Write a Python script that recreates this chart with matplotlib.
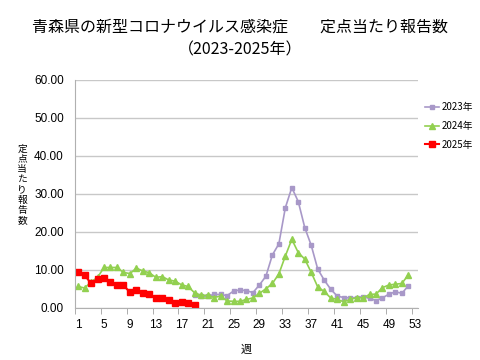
import numpy as np
import matplotlib
matplotlib.use('Agg')
import matplotlib.pyplot as plt

plt.rcParams['font.family'] = ['Noto Sans CJK JP', 'DejaVu Sans']

# weekly sentinel reports per site
weeks_2023 = list(range(19, 53))
vals_2023 = [3.3, 3.0, 3.1, 3.5, 3.5, 3.2, 4.4, 4.7, 4.5, 4.0,
             6.0, 8.3, 13.9, 16.8, 26.3, 31.6, 27.9, 21.1, 16.4, 10.2,
             7.3, 4.9, 3.1, 2.7, 2.6, 2.7, 2.9, 2.5, 1.9, 2.6,
             3.6, 4.2, 3.8, 5.8]

weeks_2024 = list(range(1, 53))
vals_2024 = [5.6, 5.2, 6.8, 8.0, 10.6, 10.6, 10.6, 9.3, 9.0, 10.4,
             9.7, 9.2, 8.0, 8.2, 7.3, 7.0, 6.0, 5.6, 3.9, 3.3,
             3.3, 2.7, 3.1, 1.8, 1.7, 1.7, 2.2, 2.6, 3.8, 5.0,
             6.4, 8.9, 13.6, 18.0, 14.5, 12.8, 9.3, 5.5, 4.3, 2.6,
             2.2, 1.6, 2.2, 2.7, 2.6, 3.5, 3.6, 5.3, 6.0, 6.2,
             6.4, 8.7]

weeks_2025 = list(range(1, 20))
vals_2025 = [9.5, 8.6, 6.4, 7.5, 7.9, 6.8, 5.9, 5.9, 4.1, 4.7,
             3.9, 3.5, 2.7, 2.5, 2.0, 1.2, 1.4, 1.2, 0.8]

xticks = list(range(1, 54, 4))
ylabel = '定点当たり報告数'

fig = plt.figure(figsize=(4.8, 3.6), dpi=100)
ax = fig.add_axes([0.156, 0.145, 0.715, 0.634])

ax.plot(weeks_2023, vals_2023, '-s', color='#a898c8', markersize=3.5,
        linewidth=1.2, label='2023年')
ax.plot(weeks_2024, vals_2024, '-^', color='#92d050', markersize=4,
        linewidth=1.2, label='2024年')
ax.plot(weeks_2025, vals_2025, '-s', color='#ff0000', markersize=5,
        linewidth=1.5, label='2025年')

num_font = ['Liberation Sans', 'DejaVu Sans']
ax.set_xlim(0.5, 53.5)
ax.set_ylim(0, 60)
ax.set_yticks(np.arange(0, 61, 10))
ax.set_yticklabels(['%.2f' % v for v in np.arange(0, 61, 10)], fontsize=8.5,
                   family=num_font)
ax.set_xticks(xticks)
ax.set_xticklabels([str(t) for t in xticks], fontsize=8.5, family=num_font)
ax.set_xticks(np.arange(0.5, 54, 4), minor=True)
ax.tick_params(axis='x', which='major', length=0, pad=8)
ax.tick_params(axis='x', which='minor', length=4, color='#a0a0a0', direction='out')
ax.tick_params(axis='y', length=0, pad=8)

ax.grid(axis='y', color='#c8c8c8', linewidth=1)
ax.set_axisbelow(True)
for s in ['top', 'right']:
    ax.spines[s].set_visible(False)
ax.spines['left'].set_color('#b0b0b0')
ax.spines['bottom'].set_color('#b0b0b0')

ax.set_xlabel('週', fontsize=8, labelpad=10)

# vertical stacked axis title, one character per line
for i, ch in enumerate(ylabel):
    fig.text(0.046, 0.588 - i * 0.0285, ch, fontsize=7, ha='center', va='center')

fig.text(0.5, 0.925, '青森県の新型コロナウイルス感染症　　定点当たり報告数',
         fontsize=11.5, ha='center', va='center')
fig.text(0.5, 0.862, '（2023-2025年）', fontsize=11.5, ha='center', va='center')

leg = ax.legend(loc='upper left', bbox_to_anchor=(1.0, 0.93), frameon=False,
                fontsize=7, handlelength=1.5, handletextpad=0.2,
                labelspacing=0.9, borderaxespad=0.3)

fig.savefig('out.png', dpi=100)
